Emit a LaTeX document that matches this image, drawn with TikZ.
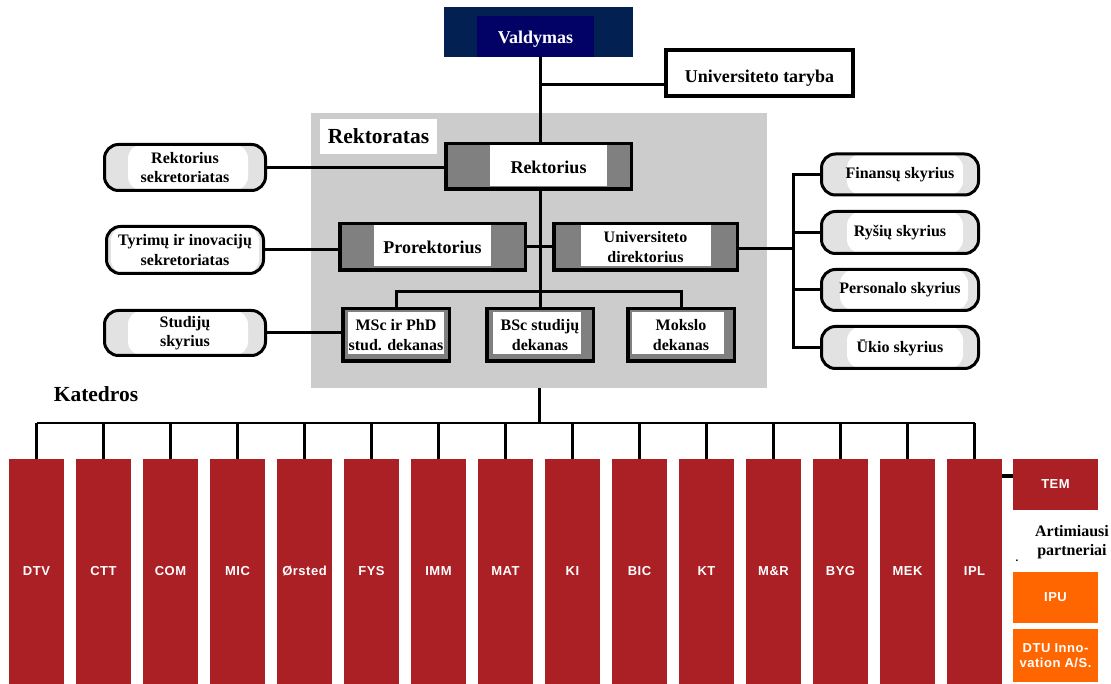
\documentclass[tikz,border=0pt]{standalone}
\usepackage{fontspec}
\setmainfont{Liberation Serif}
\newfontfamily\deptfont[LetterSpace=4]{Liberation Sans}
\usetikzlibrary{calc}

\definecolor{navyout}{HTML}{022152}
\definecolor{navyin}{HTML}{020266}
\definecolor{regiongray}{HTML}{CCCCCC}
\definecolor{boxgray}{HTML}{808080}
\definecolor{endgray}{HTML}{E2E2E2}
\definecolor{deptred}{HTML}{AA2025}
\definecolor{partnerorange}{HTML}{FF6600}

\tikzset{
  bigtext/.style={font=\rmfamily\fontsize{18}{21}\selectfont\bfseries, text depth=0pt},
  midtext/.style={font=\rmfamily\fontsize{16}{19.5}\selectfont\bfseries, align=center},
  heading/.style={font=\rmfamily\fontsize{21.5}{25}\selectfont\bfseries, text depth=0pt},
  link/.style={line width=3pt},
  buslink/.style={line width=2.4pt},
  % white panel inside a box: width, x offset, top gap, bottom gap
  panel/.style n args={4}{path picture={
      \fill[white] ([xshift={#2-#1/2}, yshift={-#3}]path picture bounding box.north)
        rectangle ([xshift={#2+#1/2}, yshift={#4}]path picture bounding box.south);}},
  officebox/.style={draw, line width=3.5pt, fill=boxgray, inner sep=0pt},
  unitbox/.style={draw, line width=3pt, fill=endgray, rounded corners=14pt,
      inner sep=0pt, midtext},
  dept/.style={fill=deptred, minimum width=55, minimum height=225, inner sep=0pt,
      text=white, align=center, font=\deptfont\fontsize{13}{15}\selectfont\bfseries},
  partner/.style={dept, fill=partnerorange, minimum width=85},
}

\begin{document}
\begin{tikzpicture}[x=1pt, y=-1pt]
\useasboundingbox (0,0) rectangle (1111,684);

% rectorate area
\node[fill=regiongray, minimum width=456, minimum height=275, inner sep=0pt] (rektoratas) at (539,250.5) {};
\node[fill=white, minimum width=117, minimum height=35, inner sep=0pt, heading] (rektoratasT) at (378.5,136.5) {Rektoratas};

% board
\node[fill=navyout, minimum width=189, minimum height=50, inner sep=0pt,
  path picture={\fill[navyin] ([xshift=-61.5pt, yshift=-9pt]path picture bounding box.north)
     rectangle ([xshift=55.5pt]path picture bounding box.south);}] (valdymas) at (538.5,32) {};
\node[bigtext, text=white] (valdymasT) at (535.5,37.5) {Valdymas};

\node[draw, line width=4pt, fill=white, minimum width=187, minimum height=46, inner sep=0pt] (taryba) at (759.5,73) {};
\node[bigtext] (tarybaT) at (759.5,76.5) {Universiteto taryba};

% rector and direct reports
\node[officebox, panel={117}{10}{1}{3}, minimum width=185.5, minimum height=45.5] (rektorius) at (538.5,166.5) {};
\node[bigtext] (rektoriusT) at (548.5,167) {Rektorius};

\node[officebox, panel={117}{0}{1}{4}, minimum width=185.5, minimum height=46.5, bigtext] (prorektorius) at (432.5,247) {Prorektorius};
\node[officebox, panel={130}{0}{1}{4}, minimum width=183.5, minimum height=46.5, midtext] (ud) at (645.5,247) {Universiteto\\direktorius};

\node[officebox, panel={96}{0}{3}{7}, minimum width=106.5, minimum height=52.5, midtext] (msc) at (396,335) {MSc ir PhD\\stud. dekanas};
\node[officebox, panel={88}{-3}{3}{7}, minimum width=106.5, minimum height=52.5, midtext] (bsc) at (540,335) {BSc studijų\\dekanas};
\node[officebox, panel={92}{-3}{3}{7}, minimum width=106.5, minimum height=52.5, midtext] (mokslo) at (681,335) {Mokslo\\dekanas};

% secretariats
\node[unitbox, panel={120}{3}{0}{0}, minimum width=161, minimum height=46] (reksek) at (185,167.5) {Rektorius\\sekretoriatas};
\node[unitbox, panel={148}{0}{0}{0}, minimum width=157, minimum height=47] (tyrimu) at (185,250) {Tyrimų ir inovacijų\\sekretoriatas};
\node[unitbox, panel={120}{3}{0}{0}, minimum width=161, minimum height=45] (studiju) at (185,333) {Studijų\\skyrius};

% offices
\node[unitbox, panel={116}{5}{0}{0}, minimum width=157, minimum height=41] (fin) at (900,174.5) {Finansų skyrius};
\node[unitbox, panel={116}{5}{0}{0}, minimum width=157, minimum height=42] (rys) at (900,232.5) {Ryšių skyrius};
\node[unitbox, panel={128}{4}{0}{0}, minimum width=157, minimum height=41] (pers) at (900,290) {Personalo skyrius};
\node[unitbox, panel={116}{5}{0}{0}, minimum width=157, minimum height=42] (ukio) at (900,347.5) {Ūkio skyrius};

% connectors, upper part
\coordinate (tarybajoin) at (540,85);
\draw[link] (valdymas.south -| tarybajoin) -- (rektorius.north -| tarybajoin);
\draw[link] (tarybajoin) -- (tarybajoin -| taryba.west);
\draw[link] (rektorius.south -| bsc.north) -- (bsc.north);
\draw[link] (prorektorius.east) -- (ud.west);
\coordinate (deanbar) at (540,292);
\draw[link] (msc.north) -- (msc.north |- deanbar) -- (mokslo.north |- deanbar) -- (mokslo.north);
\draw[link] (reksek.east) -- (reksek.east -| rektorius.west);
\draw[link] (tyrimu.east) -- (tyrimu.east -| prorektorius.west);
\draw[link] (studiju.east) -- (studiju.east -| msc.west);
\coordinate (bracket) at (793,249);
\draw[link] (ud.east |- bracket) -- (bracket);
\draw[link] (fin.west) -- (fin.west -| bracket) -- (ukio.west -| bracket) -- (ukio.west);
\draw[link] (rys.west) -- (rys.west -| bracket);
\draw[link] (pers.west) -- (pers.west -| bracket);

% departments
\node[heading] (katedrosT) at (96,394) {Katedros};
\foreach \lab [count=\i from 0] in {DTV,CTT,COM,MIC,Ørsted,FYS,IMM,MAT,KI,BIC,KT,M\&R,BYG,MEK,IPL}
  \node[dept] (k\i) at (36.5+67*\i,571.5) {\lab};

\coordinate (bus) at (540,423);
\draw[link] (rektoratas.south) -- (rektoratas.south |- bus);
\draw[buslink] (k0.north |- bus) -- (k14.north |- bus);
\foreach \i in {0,...,14}
  \draw[buslink] (k\i.north |- bus) -- (k\i.north);

% partners
\node[dept, minimum width=85, minimum height=51] (tem) at (1055.5,484.5) {TEM};
\coordinate (temlink) at (1007,476);
\draw[line width=4pt] (k14.east |- temlink) -- (tem.west |- temlink);
\node[midtext] (partnersT) at (1072,542) {Artimiausi\\partneriai};
\node[font=\rmfamily\fontsize{11}{12}\selectfont\bfseries, inner sep=0pt] (partnersdot) at (1017,561) {.};
\node[partner, minimum height=51] (ipu) at (1055.5,597.5) {IPU};
\node[partner, minimum height=53] (dtuinno) at (1055.5,655.5) {DTU Inno-\\vation A/S.};
\end{tikzpicture}
\end{document}
